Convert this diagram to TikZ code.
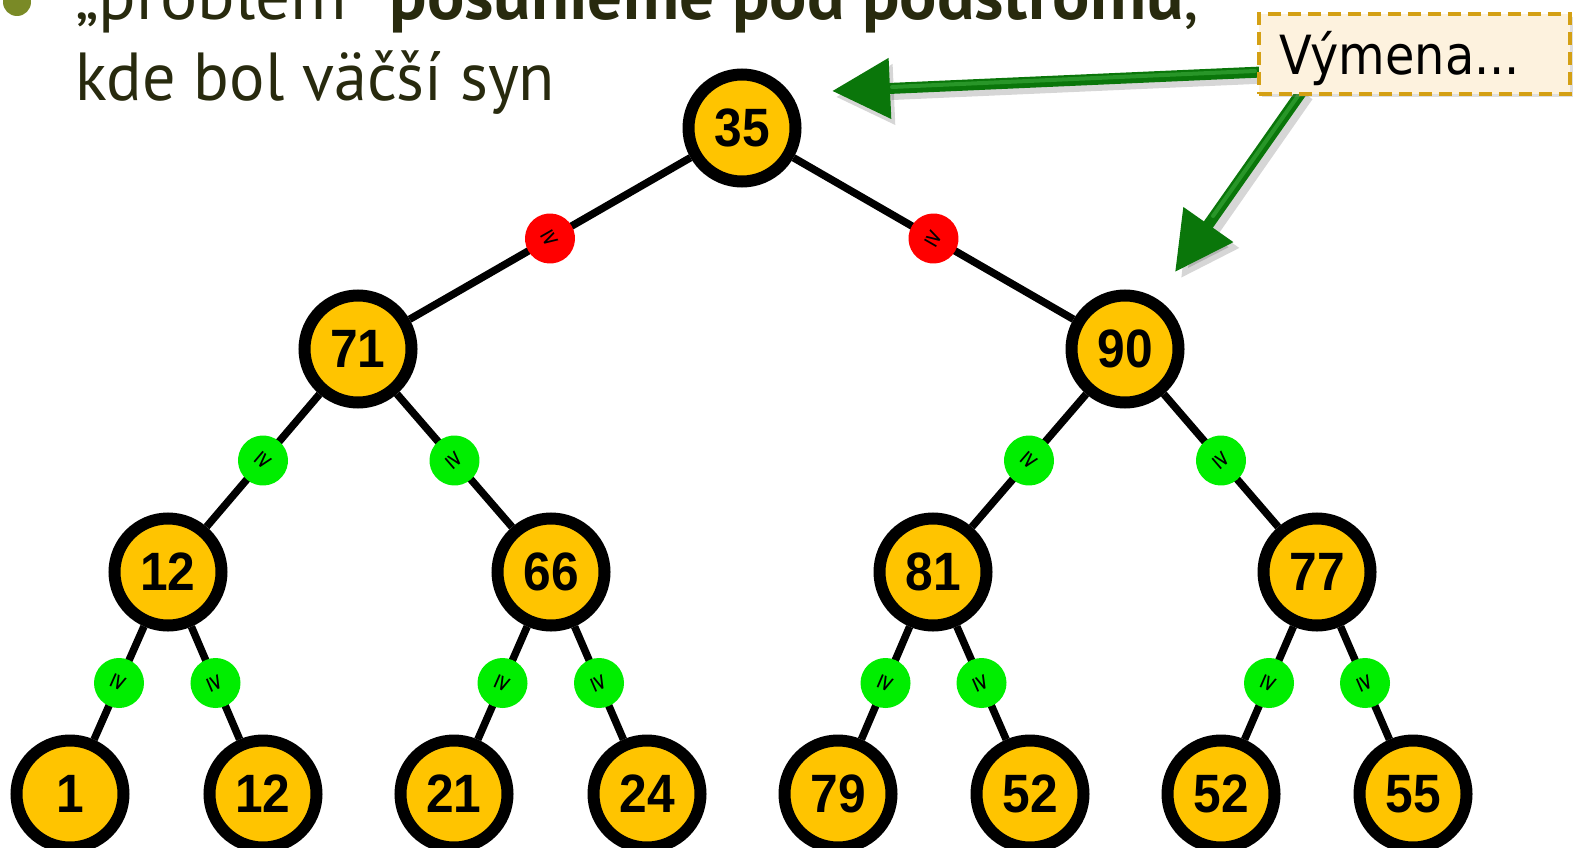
\documentclass[tikz,border=0pt]{standalone}
\usepackage{fontspec}
\usetikzlibrary{arrows.meta,backgrounds,shadows}
\setmainfont{Liberation Sans}
\newfontfamily\numfont[FakeStretch=0.92]{Liberation Sans}
\newfontfamily\slidefont{PT Sans}
\newfontfamily\symfont{DejaVu Sans}
\definecolor{nodegold}{RGB}{255,196,0}
\definecolor{markred}{RGB}{255,0,0}
\definecolor{markgreen}{RGB}{0,238,0}
\definecolor{slidetext}{RGB}{40,42,14}
\definecolor{bulletgreen}{RGB}{122,138,38}
\definecolor{arrowgreen}{RGB}{10,118,10}
\definecolor{arrowlight}{RGB}{40,150,40}
\definecolor{boxgold}{RGB}{212,160,20}
\definecolor{boxfill}{RGB}{253,242,222}
\begin{document}
\begin{tikzpicture}[x=1pt,y=-1pt,
  heapnode/.style={circle, draw=black, line width=12pt, fill=nodegold,
    minimum size=107pt, inner sep=0pt, font=\numfont\bfseries\fontsize{54}{54}\selectfont},
  edgeline/.style={line width=7.5pt, black},
  okmark/.style={circle, fill=markgreen, minimum size=50pt, inner sep=0pt,
    font=\symfont\fontsize{22}{22}\selectfont, sloped, allow upside down},
  badmark/.style={okmark, fill=markred},
  bigarrow/.style={line width=11pt, arrowgreen, -{Triangle[length=58pt,width=58pt]}},
  arrowhigh/.style={line width=4pt, arrowlight, line cap=round},
  arrowshadow/.style={line width=11pt, black, opacity=0.16, -{Triangle[length=58pt,width=58pt]}},
  calloutbox/.style={draw=boxgold, line width=4pt, dash pattern=on 13pt off 7pt,
    fill=boxfill, inner xsep=20pt, inner ysep=0pt, text width=271pt, align=left,
    text height=61pt, text depth=19pt,
    drop shadow={shadow xshift=3pt, shadow yshift=-3pt, opacity=0.25},
    font=\symfont\fontsize{54}{54}\selectfont},
  slideline/.style={anchor=base west, inner sep=0pt, text=slidetext,
    font=\slidefont\fontsize{68}{68}\selectfont}
]
\useasboundingbox (0,0) rectangle (1573,848);

% slide text
\node[circle, fill=bulletgreen, minimum size=28pt, inner sep=0pt] (bullet) at (17,2) {};
\node[slideline] (line1) at (75,20) {\resizebox{1124pt}{\height}{„problém“ \textbf{posunieme pod podstromu},}};
\node[slideline] (line2) at (75,100) {\resizebox{480pt}{\height}{kde bol väčší syn}};

% tree nodes
\node[heapnode] (n35) at (742,128) {35};
\node[heapnode] (n71) at (358,349) {71};
\node[heapnode] (n90) at (1125,349) {90};
\node[heapnode] (n12a) at (168,572) {12};
\node[heapnode] (n66) at (551,572) {66};
\node[heapnode] (n81) at (933,572) {81};
\node[heapnode] (n77) at (1317,572) {77};
\node[heapnode] (n1) at (70,794) {1};
\node[heapnode] (n12b) at (263,794) {12};
\node[heapnode] (n21) at (454,794) {21};
\node[heapnode] (n24) at (647,794) {24};
\node[heapnode] (n79) at (838,794) {79};
\node[heapnode] (n52a) at (1030,794) {52};
\node[heapnode] (n52b) at (1221,794) {52};
\node[heapnode] (n55) at (1413,794) {55};

\begin{scope}[on background layer]
\draw[edgeline] (n35) -- node[badmark]{≥} (n71);
\draw[edgeline] (n35) -- node[badmark]{≥} (n90);
\draw[edgeline] (n71) -- node[okmark]{≥} (n12a);
\draw[edgeline] (n71) -- node[okmark]{≥} (n66);
\draw[edgeline] (n90) -- node[okmark]{≥} (n81);
\draw[edgeline] (n90) -- node[okmark]{≥} (n77);
\draw[edgeline] (n12a) -- node[okmark]{≥} (n1);
\draw[edgeline] (n12a) -- node[okmark]{≥} (n12b);
\draw[edgeline] (n66) -- node[okmark]{≥} (n21);
\draw[edgeline] (n66) -- node[okmark]{≥} (n24);
\draw[edgeline] (n81) -- node[okmark]{≥} (n79);
\draw[edgeline] (n81) -- node[okmark]{≥} (n52a);
\draw[edgeline] (n77) -- node[okmark]{≥} (n52b);
\draw[edgeline] (n77) -- node[okmark]{≥} (n55);
\end{scope}

% arrows from the callout
\coordinate (a1s) at (1262,72);
\coordinate (a1e) at (832,91);
\coordinate (a2s) at (1303,90);
\coordinate (a2e) at (1175,272);
\coordinate (a1ss) at (1266,78);
\coordinate (a1es) at (836,97);
\coordinate (a2ss) at (1308,96);
\coordinate (a2es) at (1181,278);
\coordinate (a1hs) at (1255,71);
\coordinate (a1he) at (892,87);
\coordinate (a2hs) at (1300,93);
\coordinate (a2he) at (1213,216);
\draw[arrowshadow] (a1ss) -- (a1es);
\draw[arrowshadow] (a2ss) -- (a2es);
\draw[bigarrow] (a1s) -- (a1e);
\draw[bigarrow] (a2s) -- (a2e);
\draw[arrowhigh] (a1hs) -- (a1he);
\draw[arrowhigh] (a2hs) -- (a2he);

% callout
\node[calloutbox, anchor=north west] (callout) at (1257,12) {\resizebox{241pt}{\height}{Výmena...}};
\end{tikzpicture}
\end{document}
